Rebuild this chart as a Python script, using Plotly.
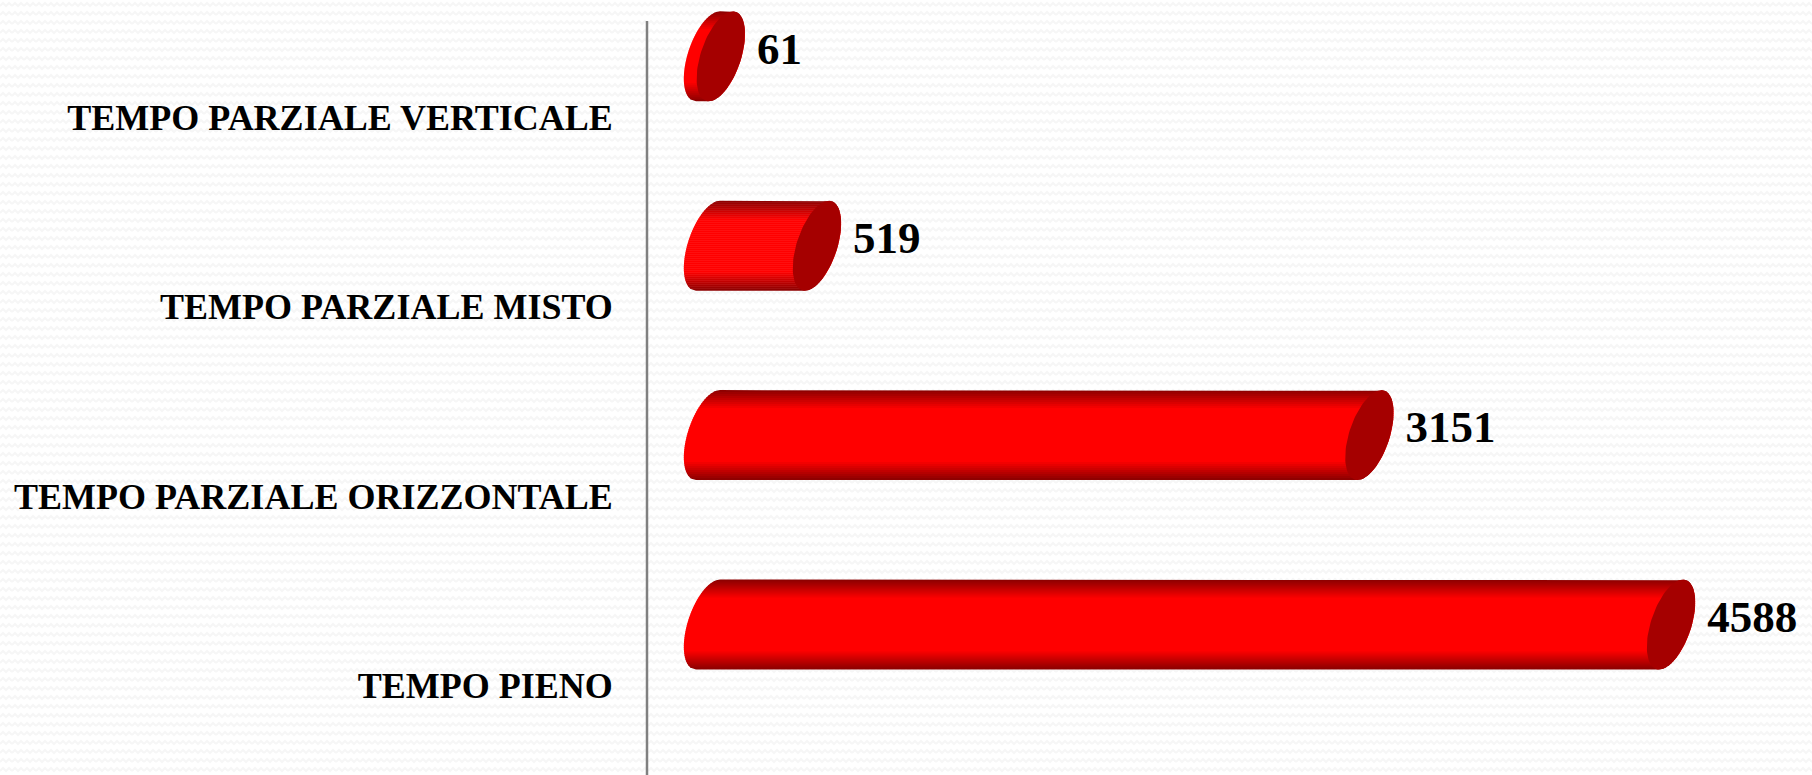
import base64
import numpy as np
import plotly.graph_objects as go

categories = ["TEMPO PIENO", "TEMPO PARZIALE ORIZZONTALE", "TEMPO PARZIALE MISTO", "TEMPO PARZIALE VERTICALE"]
values = [4588, 3151, 519, 61]
labels = ["4588", "3151", "519", "61"]

W, H = 1812, 775
AX_LEFT, AX_TOP = 647, 21
PX_X = 0.2099   # pixels per value unit
PX_Y = 189.4    # pixels per category
Y_LOW = -(775 - 685.5) / PX_Y
Y_HIGH = Y_LOW + H / PX_Y
X_HIGH = (W - AX_LEFT) / PX_X

# pseudo-3D cylinder: offset of the depth effect and the shape of the end cap
DEPTH_X = 61 / PX_X
DEPTH_Y = 61 / PX_Y
HALF_H = 45 / PX_Y
CAP_A = 21 / PX_X
CAP_S = 12 / PX_X
R = np.hypot(CAP_A, CAP_S)

DARK = "#a50000"
AXIS = "#808080"
FONT = "Liberation Serif"


def band_color(u):
    t = max(0.0, (abs(u) - 0.58) / 0.42)
    return f"rgb({int(round(255 - 118 * t))},0,0)"


N = 45
edges = np.linspace(-1, 1, N + 1)
fig = go.Figure()

for k in range(N):
    u1, u2 = edges[k], min(1.0, edges[k + 1] + 0.012)
    us = np.linspace(u1, u2, 4)
    xs, ys = [], []
    for i, v in enumerate(values):
        c0 = DEPTH_X
        c1 = v + DEPTH_X
        yc = i + DEPTH_Y
        left = c0 + CAP_S * us - CAP_A * np.sqrt(np.clip(1 - us ** 2, 0, 1))
        right = c1 + CAP_S * us[::-1] + CAP_A * np.sqrt(np.clip(1 - us[::-1] ** 2, 0, 1))
        xs += list(left) + list(right) + [left[0], None]
        ys += list(yc + HALF_H * us) + list(yc + HALF_H * us[::-1]) + [yc + HALF_H * us[0], None]
    fig.add_trace(go.Scatter(x=xs, y=ys, mode="lines", fill="toself", line=dict(width=0),
                             fillcolor=band_color((edges[k] + edges[k + 1]) / 2),
                             hoverinfo="skip", showlegend=False, cliponaxis=False))

# dark end caps
t = np.linspace(0, 2 * np.pi, 90)
cx, cy = [], []
for i, v in enumerate(values):
    cx += list(v + DEPTH_X + CAP_A * np.cos(t) + CAP_S * np.sin(t)) + [None]
    cy += list(i + DEPTH_Y + HALF_H * np.sin(t)) + [None]
fig.add_trace(go.Scatter(x=cx, y=cy, mode="lines", fill="toself", line=dict(width=0),
                         fillcolor=DARK, hoverinfo="skip", showlegend=False, cliponaxis=False))

# value labels
fig.add_trace(go.Scatter(
    x=[v + DEPTH_X + R + 12 / PX_X for v in values],
    y=[i + DEPTH_Y + 4 / PX_Y for i in range(len(values))],
    mode="text", text=labels, textposition="middle right",
    textfont=dict(family=FONT, size=45, color="black", weight=700),
    hoverinfo="skip", showlegend=False, cliponaxis=False))

# faint zigzag wallpaper of the slide background
svg = (f'<svg xmlns="http://www.w3.org/2000/svg" width="{W}" height="{H}">'
       '<defs><pattern id="p" width="12" height="9" patternUnits="userSpaceOnUse">'
       '<path d="M0 6 L3 3 L6 6 L9 3 L12 6" fill="none" stroke="#f6f6f6" stroke-width="2"/>'
       '</pattern></defs><rect width="100%" height="100%" fill="url(#p)"/></svg>')
bg = "data:image/svg+xml;base64," + base64.b64encode(svg.encode()).decode()

fig.update_layout(
    width=W, height=H,
    margin=dict(l=AX_LEFT, r=0, t=0, b=0, autoexpand=False),
    paper_bgcolor="white", plot_bgcolor="rgba(0,0,0,0)",
    showlegend=False,
    images=[dict(source=bg, xref="paper", yref="paper", x=-AX_LEFT / (W - AX_LEFT), y=1,
                 sizex=W / (W - AX_LEFT), sizey=1, sizing="stretch",
                 xanchor="left", yanchor="top", layer="below")],
    shapes=[dict(type="line", xref="paper", x0=0, x1=0, yref="paper", y0=0, y1=1 - AX_TOP / H,
                 line=dict(color=AXIS, width=2.5), layer="below")],
    xaxis=dict(range=[0, X_HIGH], showgrid=False, zeroline=False, showticklabels=False, ticks="",
               showline=False, fixedrange=True),
    yaxis=dict(range=[Y_LOW, Y_HIGH], tickmode="array", tickvals=list(range(len(categories))), ticktext=categories,
               tickfont=dict(family=FONT, size=36, color="black", weight=700),
               ticks="outside", ticklen=26, tickwidth=1, tickcolor="rgba(0,0,0,0)",
               showgrid=False, zeroline=False, showline=False, fixedrange=True),
)

fig.write_html("out.html", config={"displayModeBar": False},
               post_script="document.body.style.margin='0';document.documentElement.style.overflow='hidden';")
